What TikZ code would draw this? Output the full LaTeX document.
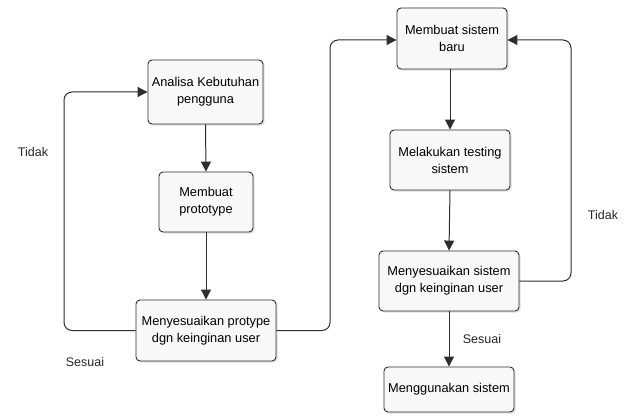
\documentclass[tikz,border=0pt]{standalone}
\usepackage{fontspec}
\setmainfont{Liberation Sans}
\usetikzlibrary{arrows.meta,shadows}
\definecolor{boxfill}{HTML}{F8F8F8}
\definecolor{linecol}{HTML}{2E2E2E}
\tikzset{
  box/.style={draw=linecol, line width=0.9pt, fill=boxfill, rounded corners=4pt,
    align=center, inner sep=1pt, font=\fontsize{12.8}{17}\selectfont,
    drop shadow={shadow xshift=1.6pt, shadow yshift=-1.6pt, opacity=0.35, fill=gray!70}},
  conn/.style={draw=linecol, line width=1pt, -{Triangle[length=10pt,width=10pt]}},
  lbl/.style={font=\fontsize{12.5}{14}\selectfont, text=black!85}
}
\begin{document}
\begin{tikzpicture}[x=1pt,y=-1pt]
\useasboundingbox (0,0) rectangle (632,417);
\fill[white] (0,0) rectangle (632,417);
% left column
\node[box, minimum width=115pt, minimum height=64pt] (b1) at (205.5,92) {Analisa Kebutuhan\\pengguna};
\node[box, minimum width=94pt, minimum height=60pt] (b2) at (206,202) {Membuat\\prototype};
\node[box, minimum width=140pt, minimum height=61pt] (b3) at (206,330.5) {Menyesuaikan protype\\dgn keinginan user};
% right column
\node[box, minimum width=110pt, minimum height=61pt] (b4) at (452,38.5) {Membuat sistem\\baru};
\node[box, minimum width=120pt, minimum height=60pt] (b5) at (450,160) {Melakukan testing\\sistem};
\node[box, minimum width=140pt, minimum height=60pt] (b6) at (449,281) {Menyesuaikan sistem\\dgn keinginan user};
\node[box, minimum width=130pt, minimum height=45pt] (b7) at (449,389.5) {Menggunakan sistem};
% vertical connectors
\draw[conn] (b1.south) -- (b2.north);
\draw[conn] (b2.south) -- (b3.north);
\draw[conn] (b4.south -| b5.north) -- (b5.north);
\draw[conn] (b5.south) -- (b6.south |- b6.north);
\draw[conn] (b6.south) -- (b7.north -| b6.south);
% loops
\draw[conn, rounded corners=8pt] (b3.west) -- (64,330.5) -- (64,92) -- (b1.west);
\draw[conn, rounded corners=8pt] (b3.east) -- (330,330.5) -- (330,40) -- (b4.west |- 0,40);
\draw[conn, rounded corners=8pt] (b6.east) -- (571,281) -- (571,40) -- (b4.east |- 0,40);
% labels
\node[lbl] (t1) at (33,152) {Tidak};
\node[lbl] (s1) at (85,362) {Sesuai};
\node[lbl] (t2) at (603,215) {Tidak};
\node[lbl] (s2) at (482,339) {Sesuai};
\end{tikzpicture}
\end{document}
